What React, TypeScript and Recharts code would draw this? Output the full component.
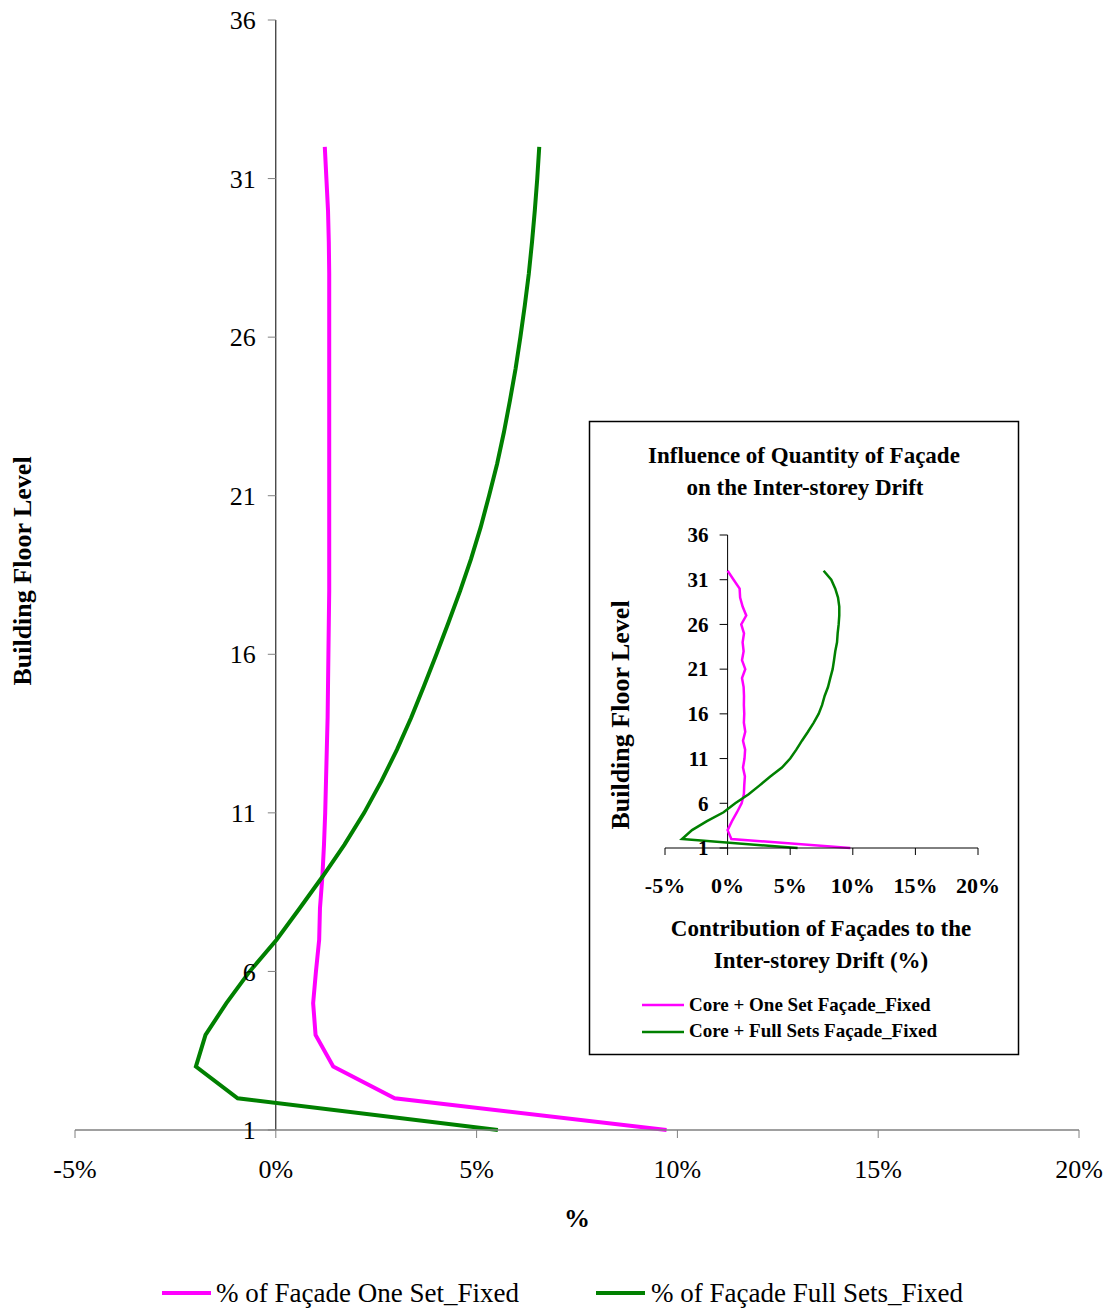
import React from 'react';
import { LineChart, Line, XAxis, YAxis, ReferenceLine } from 'recharts';

// floor levels of the building (1 = ground)
const floors = [1, 2, 3, 4, 5, 6, 7, 8, 9, 10, 11, 12, 13, 14, 15, 16, 17, 18, 19, 20, 21, 22, 23, 24, 25, 26, 27, 28, 29, 30, 31, 32];

// main chart, % of facade
const oneSetMain = [9.73, 2.96, 1.43, 0.99, 0.93, 1.0, 1.08, 1.1, 1.16, 1.2, 1.23, 1.25, 1.27, 1.29, 1.3, 1.31, 1.32, 1.33, 1.33, 1.33, 1.33, 1.33, 1.33, 1.33, 1.33, 1.33, 1.33, 1.33, 1.32, 1.3, 1.26, 1.22];
const fullSetsMain = [5.53, -0.95, -1.99, -1.75, -1.23, -0.65, 0.02, 0.6, 1.17, 1.71, 2.2, 2.63, 3.02, 3.37, 3.69, 4.0, 4.3, 4.59, 4.86, 5.1, 5.31, 5.51, 5.68, 5.83, 5.97, 6.09, 6.2, 6.3, 6.38, 6.45, 6.51, 6.56];

// inset chart, contribution of facades to inter-storey drift
const oneSetInset = [9.8, 0.3, 0.0, 0.35, 0.75, 1.12, 1.3, 1.33, 1.38, 1.23, 1.35, 1.4, 1.23, 1.41, 1.3, 1.33, 1.3, 1.31, 1.28, 1.15, 1.41, 1.15, 1.28, 1.2, 1.31, 1.09, 1.49, 1.2, 1.0, 0.96, 0.48, 0.0];
const fullSetsInset = [5.59, -3.64, -2.84, -1.65, -0.32, 0.61, 1.68, 2.56, 3.41, 4.34, 5.0, 5.49, 5.94, 6.42, 6.87, 7.27, 7.55, 7.75, 8.02, 8.2, 8.39, 8.5, 8.6, 8.74, 8.79, 8.87, 8.92, 8.92, 8.82, 8.6, 8.28, 7.67];

const xTicks = [-5, 0, 5, 10, 15, 20];
const yTicks = [1, 6, 11, 16, 21, 26, 31, 36];

const mainData = floors.map((floor, i) => ({ floor, oneSet: oneSetMain[i], fullSets: fullSetsMain[i] }));
const insetData = floors.map((floor, i) => ({ floor, oneSet: oneSetInset[i], fullSets: fullSetsInset[i] }));

const SERIF = '"Liberation Serif", "Times New Roman", serif';
const MAGENTA = '#FF00FF';
const GREEN = '#008000';

// y axis crosses at x = 0, so ticks are drawn at the zero position of the x scale
const makeYTick = (zeroX: number, gap: number, size: number, weight: string, color: string) => (props: any) => {
  const { y, payload } = props;
  return (
    <g>
      <line x1={zeroX - 8} x2={zeroX} y1={y} y2={y} stroke={color} />
      <text x={zeroX - gap} y={y} dy="0.35em" textAnchor="end" fontFamily={SERIF} fontSize={size} fontWeight={weight} fill="#000">
        {payload.value}
      </text>
    </g>
  );
};

const mainZero = 75 + (1004 * 5) / 25;
const insetZero = 76 + (313 * 5) / 25;

const App: React.FC = () => {
  return (
    <div style={{ position: 'absolute', left: 0, top: 0, width: 1110, height: 1312, background: '#fff' }}>
      <LineChart width={1110} height={1312} layout="vertical" data={mainData} margin={{ top: 20, right: 31, bottom: 122, left: 15 }}>
        <XAxis
          type="number"
          domain={[-5, 20]}
          ticks={xTicks}
          interval={0}
          height={60}
          tickFormatter={(v) => `${v}%`}
          axisLine={{ stroke: '#808080', strokeWidth: 1.5 }}
          tickLine={{ stroke: '#808080' }}
          tickSize={8}
          tickMargin={22}
          tick={{ fill: '#000', fontSize: 26, fontFamily: SERIF }}
        />
        <YAxis
          type="number"
          dataKey="floor"
          domain={[1, 36]}
          ticks={yTicks}
          interval={0}
          reversed
          width={60}
          axisLine={false}
          tickLine={false}
          tick={makeYTick(mainZero, 20, 26, 'normal', '#808080')}
        />
        <ReferenceLine x={0} stroke="#000" strokeWidth={1} />
        <Line type="linear" dataKey="oneSet" stroke={MAGENTA} strokeWidth={4} dot={false} isAnimationActive={false} />
        <Line type="linear" dataKey="fullSets" stroke={GREEN} strokeWidth={4} dot={false} isAnimationActive={false} />
      </LineChart>

      <div style={{ position: 'absolute', left: 589, top: 421, width: 430, height: 634, background: '#fff' }}>
        <LineChart width={430} height={634} layout="vertical" data={insetData} margin={{ top: 114, right: 41, bottom: 167, left: 16 }}>
          <XAxis
            type="number"
            domain={[-5, 20]}
            ticks={xTicks}
            interval={0}
            height={40}
            tickFormatter={(v) => `${v}%`}
            axisLine={{ stroke: '#000' }}
            tickLine={{ stroke: '#000' }}
            tickSize={7}
            tickMargin={22}
            tick={{ fill: '#000', fontSize: 22, fontWeight: 'bold', fontFamily: SERIF }}
          />
          <YAxis
            type="number"
            dataKey="floor"
            domain={[1, 36]}
            ticks={yTicks}
            interval={0}
            reversed
            width={60}
            axisLine={false}
            tickLine={false}
            tick={makeYTick(insetZero, 19, 21, 'bold', '#000')}
          />
          <ReferenceLine x={0} stroke="#000" strokeWidth={1} />
          <Line type="linear" dataKey="oneSet" stroke={MAGENTA} strokeWidth={2.5} dot={false} isAnimationActive={false} />
          <Line type="linear" dataKey="fullSets" stroke={GREEN} strokeWidth={2.5} dot={false} isAnimationActive={false} />
        </LineChart>
      </div>

      <svg width={1110} height={1312} style={{ position: 'absolute', left: 0, top: 0, pointerEvents: 'none' }}>
        <g fontFamily={SERIF} fill="#000">
          {/* main chart titles */}
          <text transform="translate(31,571) rotate(-90)" textAnchor="middle" fontSize={26} fontWeight="bold">Building Floor Level</text>
          <text x={577} y={1227} textAnchor="middle" fontSize={26} fontWeight="bold">%</text>

          {/* main legend */}
          <line x1={162} x2={211} y1={1293} y2={1293} stroke={MAGENTA} strokeWidth={4} />
          <text x={216} y={1302} fontSize={27}>% of Façade One Set_Fixed</text>
          <line x1={596} x2={645} y1={1293} y2={1293} stroke={GREEN} strokeWidth={4} />
          <text x={651} y={1302} fontSize={27}>% of Façade Full Sets_Fixed</text>

          {/* inset frame and texts */}
          <rect x={589.5} y={421.5} width={429} height={633} fill="none" stroke="#000" strokeWidth={1.5} />
          <text x={804} y={463} textAnchor="middle" fontSize={23} fontWeight="bold">Influence of Quantity of Façade</text>
          <text x={805} y={495} textAnchor="middle" fontSize={23} fontWeight="bold">on the Inter-storey Drift</text>
          <text transform="translate(629,715) rotate(-90)" textAnchor="middle" fontSize={26} fontWeight="bold">Building Floor Level</text>
          <text x={821} y={936} textAnchor="middle" fontSize={23} fontWeight="bold">Contribution of Façades to the</text>
          <text x={821} y={968} textAnchor="middle" fontSize={23} fontWeight="bold">Inter-storey Drift (%)</text>

          <line x1={642} x2={684} y1={1005} y2={1005} stroke={MAGENTA} strokeWidth={2.5} />
          <text x={689} y={1011} fontSize={19} fontWeight="bold">Core + One Set Façade_Fixed</text>
          <line x1={642} x2={684} y1={1032} y2={1032} stroke={GREEN} strokeWidth={2.5} />
          <text x={689} y={1037} fontSize={19} fontWeight="bold">Core + Full Sets Façade_Fixed</text>
        </g>
      </svg>
    </div>
  );
};

export default App;
